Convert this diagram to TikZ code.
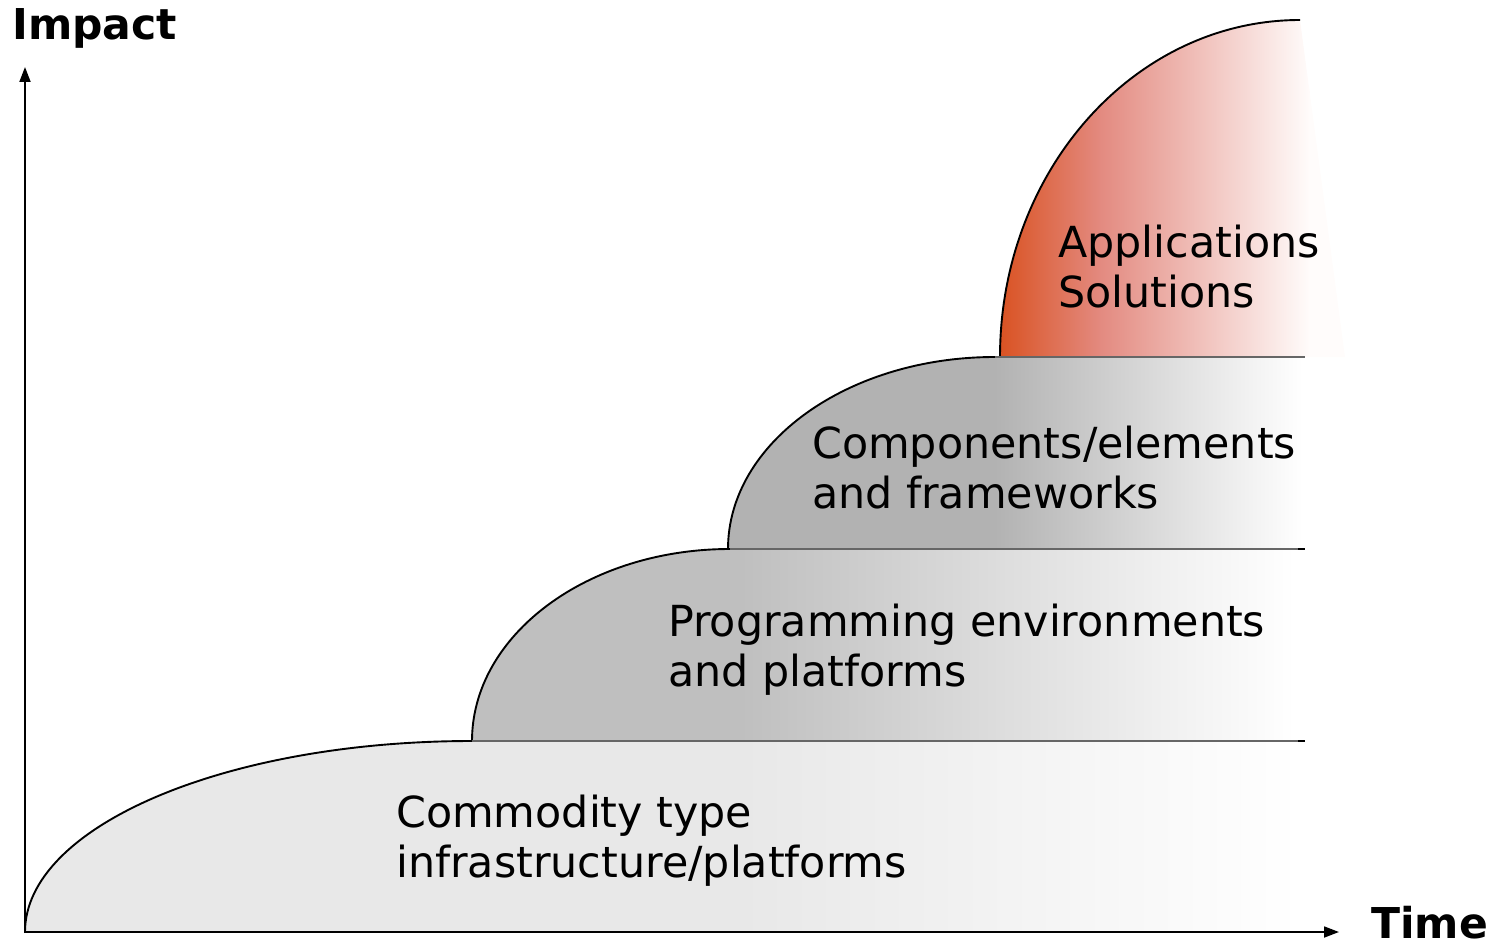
\documentclass[tikz,border=0pt]{standalone}
\usepackage{fontspec}
\setmainfont{DejaVu Sans}
\usetikzlibrary{arrows.meta}
\definecolor{cA}{HTML}{E8E8E8}
\definecolor{cB}{HTML}{BFBFBF}
\definecolor{cC}{HTML}{B2B2B2}
\definecolor{cD}{HTML}{D9501E}
\definecolor{cDm}{HTML}{E38A80}
\definecolor{cDe}{HTML}{FFFCFB}
\begin{document}
\begin{tikzpicture}[x=1pt,y=-1pt,
  curveline/.style={draw=black,line width=1.9pt},
  ledge/.style={draw=gray!80!black,line width=1.2pt},
  tick/.style={draw=black,line width=1.6pt},
  axisline/.style={line width=1.8pt,-{Triangle[width=11pt,length=15pt]}},
  lbl/.style={anchor=base west,align=left,inner sep=0pt,font=\fontsize{42.8}{50}\selectfont},
  axlbl/.style={anchor=base west,inner sep=0pt,font=\fontsize{42.5}{48}\selectfont\bfseries}]
\useasboundingbox (0,0) rectangle (1502,947);

% shape 1: commodity
\begin{scope}
\clip (25,932) arc[start angle=180,end angle=270,x radius=447,y radius=191] -- (1302,741) -- (1302,932) -- cycle;
\fill[cA] (20,700) rectangle (741,935);
\shade[left color=cA,right color=white] (740,700) rectangle (1302,935);
\end{scope}
% shape 2: programming
\begin{scope}
\clip (472,741) arc[start angle=180,end angle=270,x radius=258,y radius=192] -- (1302,549) -- (1302,741) -- cycle;
\fill[cB] (460,540) rectangle (741,745);
\shade[left color=cB,right color=white] (740,540) rectangle (1295,745);
\end{scope}
% shape 3: components
\begin{scope}
\clip (728,549) arc[start angle=180,end angle=270,x radius=267,y radius=192] -- (1302,357) -- (1302,549) -- cycle;
\fill[cC] (720,350) rectangle (996,552);
\shade[left color=cC,right color=white] (995,350) rectangle (1302,552);
\end{scope}
% shape 4: applications
\begin{scope}
\clip (1000,357) arc[start angle=180,end angle=270,x radius=300,y radius=337] -- (1345,357) -- cycle;
\shade[left color=cD,right color=cDm] (995,15) rectangle (1101,360);
\shade[left color=cDm,right color=cDe] (1100,15) rectangle (1310,360);
\fill[cDe] (1309,15) rectangle (1350,360);
\end{scope}

% outlines
\draw[curveline] (25,932) arc[start angle=180,end angle=270,x radius=447,y radius=191];
\draw[curveline] (472,741) arc[start angle=180,end angle=270,x radius=258,y radius=192];
\draw[curveline] (728,549) arc[start angle=180,end angle=270,x radius=267,y radius=192];
\draw[curveline] (1000,357) arc[start angle=180,end angle=270,x radius=300,y radius=337];
\draw[ledge] (472,741) -- (1300,741);
\draw[ledge] (730,549) -- (1300,549);
\draw[ledge] (995,357) -- (1305,357);
\draw[tick] (1298,741) -- (1305,741);
\draw[tick] (1298,549) -- (1305,549);

% axes
\coordinate (O) at (25,933);
\coordinate (ytop) at (25,67);
\coordinate (xend) at (1339,932);
\draw[axisline] (O) -- (ytop);
\draw[axisline] (24,932) -- (xend);
\node[axlbl] (impact) at (12,40) {Impact};
\node[axlbl] (time) at (1371,938) {Time};

% labels
\node[lbl] (apps) at (1058,307) {Applications\\Solutions};
\node[lbl] (comp) at (812,508) {Components/elements\\and frameworks};
\node[lbl] (prog) at (668,686) {Programming environments\\and platforms};
\node[lbl] (comm) at (396,877) {Commodity type\\infrastructure/platforms};
\end{tikzpicture}
\end{document}
